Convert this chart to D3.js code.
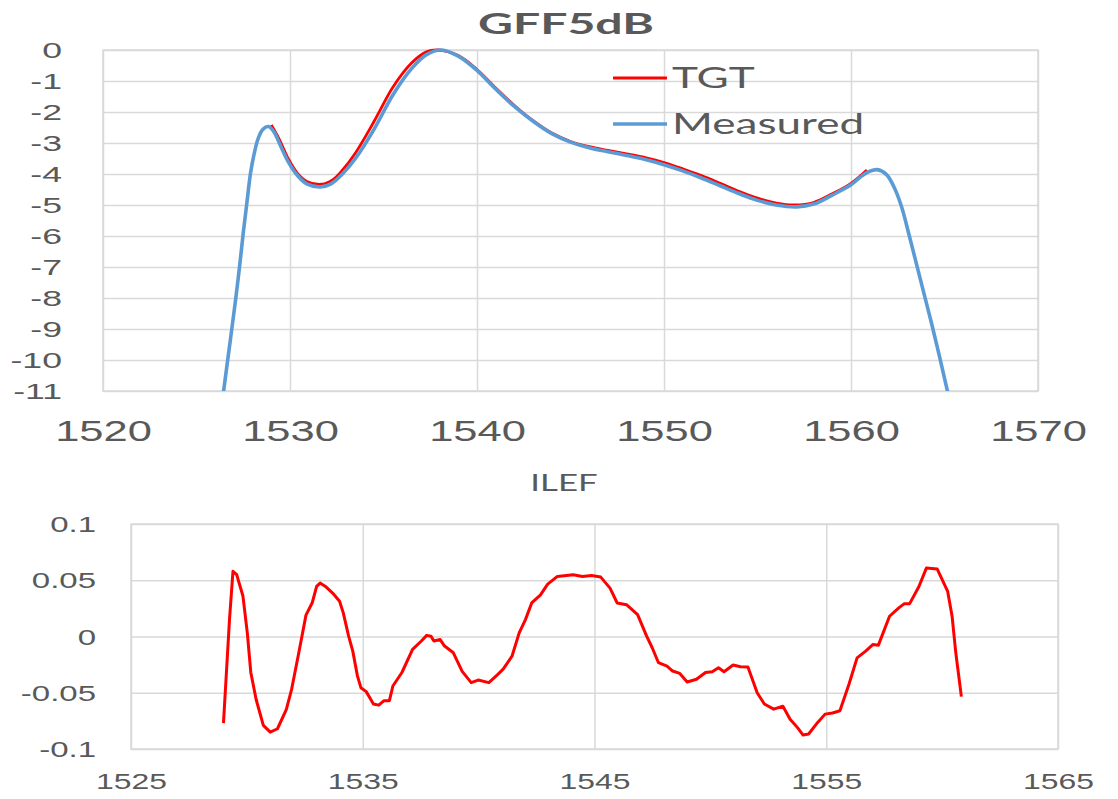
<!DOCTYPE html>
<html>
<head>
<meta charset="utf-8">
<script src="https://cdn.jsdelivr.net/npm/d3@7/dist/d3.min.js"></script>
<style>
  body { margin: 0; background: #fff; }
  svg { display: block; font-family: Lato, "Open Sans", sans-serif; }
</style>
</head>
<body>
<svg id="chart" width="1118" height="799"></svg>
<script>
// ---- GFF5dB: filter shape, wavelength (nm) vs attenuation (dB) ----
const tgtWl = [1529.0, 1529.4, 1529.9, 1530.4, 1530.9, 1531.7, 1532.3, 1532.8, 1533.5, 1534.5,
  1535.5, 1536.5, 1537.3, 1537.9, 1539, 1540, 1541, 1542, 1543, 1544, 1545, 1546, 1547, 1548,
  1549, 1550, 1551, 1552, 1553, 1554, 1555, 1556, 1557, 1558, 1559, 1560, 1560.85];
const tgtDb = [-2.42, -2.85, -3.5, -3.98, -4.24, -4.33, -4.18, -3.88, -3.32, -2.3,
  -1.2, -0.42, -0.06, 0, -0.18, -0.63, -1.23, -1.79, -2.28, -2.68, -2.95, -3.12, -3.24, -3.35,
  -3.47, -3.63, -3.83, -4.05, -4.3, -4.56, -4.78, -4.94, -5.0, -4.92, -4.64, -4.3, -3.87];

const measWl = [1526.35, 1526.45, 1526.8, 1527.09, 1527.3, 1527.5, 1527.7, 1527.89, 1528.1, 1528.3,
  1528.55, 1528.85, 1529.15, 1529.5, 1529.9, 1530.4, 1530.9, 1531.6, 1532.2, 1532.8,
  1533.5, 1534.5, 1535.5, 1536.5, 1537.3, 1538.1, 1539, 1540, 1541, 1542,
  1543, 1544, 1545, 1546, 1547, 1548, 1549, 1550, 1551, 1552,
  1553, 1554, 1555, 1556, 1557.1, 1558, 1559, 1560, 1560.5, 1560.9,
  1561.4, 1561.9, 1562.3, 1562.7, 1563.1, 1563.5, 1563.9, 1564.3, 1564.7, 1565.1, 1565.2];
const measDb = [-11.5, -11, -9.4, -8.06, -7.0, -5.9, -4.9, -3.97, -3.3, -2.85,
  -2.56, -2.47, -2.65, -3.1, -3.6, -4.05, -4.32, -4.42, -4.32, -4.0,
  -3.5, -2.55, -1.45, -0.6, -0.15, 0, -0.2, -0.66, -1.26, -1.82,
  -2.3, -2.7, -2.97, -3.15, -3.28, -3.4, -3.53, -3.7, -3.9, -4.13,
  -4.38, -4.63, -4.85, -5.0, -5.06, -4.97, -4.68, -4.35, -4.1, -3.94,
  -3.86, -4.02, -4.42, -5.05, -5.95, -6.9, -7.85, -8.8, -9.8, -10.85, -11.1];

const gffXTicks = [1520, 1530, 1540, 1550, 1560, 1570];
const gffYTicks = [0, -1, -2, -3, -4, -5, -6, -7, -8, -9, -10, -11];
const gffSeries = ["TGT", "Measured"];

// ---- ILEF: insertion loss error function ----
const ilefWl = [1528.99, 1529.25, 1529.40, 1529.56, 1529.83, 1530.02, 1530.17, 1530.40, 1530.71, 1531.01,
  1531.32, 1531.70, 1531.93, 1532.24, 1532.55, 1532.82, 1533.01, 1533.16, 1533.39, 1533.70,
  1534.00, 1534.16, 1534.39, 1534.57, 1534.77, 1534.92, 1535.15, 1535.46, 1535.69, 1535.92,
  1536.15, 1536.30, 1536.69, 1537.15, 1537.53, 1537.76, 1537.94, 1538.07, 1538.34, 1538.53,
  1538.91, 1539.29, 1539.68, 1539.98, 1540.44, 1540.83, 1541.06, 1541.44, 1541.75, 1542.02,
  1542.29, 1542.67, 1542.98, 1543.40, 1544.08, 1544.48, 1544.87, 1545.27, 1545.67, 1545.98,
  1546.38, 1546.86, 1547.25, 1547.49, 1547.76, 1548.13, 1548.37, 1548.68, 1549.00, 1549.40,
  1549.79, 1550.08, 1550.35, 1550.59, 1550.98, 1551.30, 1551.62, 1552.02, 1552.33, 1552.73,
  1553.13, 1553.44, 1553.76, 1554.00, 1554.24, 1554.63, 1554.95, 1555.27, 1555.59, 1555.98,
  1556.33, 1556.70, 1557.02, 1557.25, 1557.73, 1558.13, 1558.37, 1558.60, 1559.00, 1559.32,
  1559.79, 1560.24, 1560.43, 1560.59, 1560.83];
const ilefVal = [-0.077, 0.015, 0.058, 0.055, 0.036, 0.003, -0.032, -0.056, -0.079, -0.085,
  -0.082, -0.065, -0.047, -0.0145, 0.019, 0.030, 0.0445, 0.0475, 0.0445, 0.0386,
  0.0313, 0.021, 0.0003, -0.013, -0.035, -0.0455, -0.049, -0.060, -0.061, -0.057,
  -0.057, -0.044, -0.032, -0.0115, -0.004, 0.001, 0.0003, -0.004, -0.0027, -0.0085,
  -0.0145, -0.031, -0.041, -0.0387, -0.041, -0.0337, -0.029, -0.0175, 0.0032, 0.015,
  0.0298, 0.037, 0.0465, 0.0534, 0.0549, 0.0534, 0.0543, 0.0528, 0.043, 0.0298,
  0.0283, 0.0195, 0.0003, -0.010, -0.0233, -0.0263, -0.0307, -0.0328, -0.0404, -0.038,
  -0.032, -0.0313, -0.0277, -0.0313, -0.0254, -0.0269, -0.0271, -0.050, -0.060, -0.0646,
  -0.062, -0.0735, -0.081, -0.0876, -0.0867, -0.0764, -0.069, -0.068, -0.066, -0.0425,
  -0.019, -0.013, -0.0071, -0.0077, 0.018, 0.0254, 0.0292, 0.0292, 0.0445, 0.0608,
  0.0599, 0.0401, 0.018, -0.0145, -0.0534];

const ilefXTicks = [1525, 1535, 1545, 1555, 1565];
const ilefYTicks = [0.1, 0.05, 0, -0.05, -0.1];

// ---- drawing ----
const TEXT = "#595959", GRID = "#d9d9d9";
const RED = "#ff0000", BLUE = "#5b9bd5";
const svg = d3.select("#chart");
svg.append("rect").attr("width", 1118).attr("height", 799).attr("fill", "#fff");

// horizontally widened glyphs, as in the exported chart
function widen(sel, sx) {
  sel.attr("transform", `scale(${sx},1)`);
}

function panel(opt) {
  const g = svg.append("g");
  const x = d3.scaleLinear().domain(opt.xDomain).range([opt.left, opt.right]);
  const y = d3.scaleLinear().domain(opt.yDomain).range([opt.bottom, opt.top]);
  const w = opt.right - opt.left, h = opt.bottom - opt.top;

  // vertical grid + x labels
  const gx = g.append("g").attr("transform", `translate(0,${opt.bottom})`)
    .call(d3.axisBottom(x).tickValues(opt.xTicks).tickSize(-h).tickPadding(0).tickFormat(d => String(d)));
  gx.select(".domain").remove();
  gx.selectAll("line").attr("stroke", GRID).attr("stroke-width", 1.5);
  gx.selectAll("text").attr("y", opt.xLabelDy).attr("dy", null)
    .attr("fill", TEXT).style("font-size", opt.xFont + "px")
    .call(widen, opt.xStretch);

  // horizontal grid + y labels
  const gy = g.append("g").attr("transform", `translate(${opt.left},0)`)
    .call(d3.axisLeft(y).tickValues(opt.yTicks).tickSize(-w).tickPadding(0).tickFormat(d => String(d)));
  gy.select(".domain").remove();
  gy.selectAll("line").attr("stroke", GRID).attr("stroke-width", 1.5);
  gy.selectAll("text").attr("x", -opt.yLabelGap / opt.yStretch).attr("dy", "0.35em")
    .attr("fill", TEXT).style("font-size", opt.yFont + "px")
    .call(widen, opt.yStretch);

  // plot frame
  g.append("rect").attr("x", opt.left).attr("y", opt.top).attr("width", w).attr("height", h)
    .attr("fill", "none").attr("stroke", GRID).attr("stroke-width", 1.5);

  const clipId = "clip-" + opt.name;
  svg.append("clipPath").attr("id", clipId).append("rect")
    .attr("x", opt.left).attr("y", opt.top - 4).attr("width", w).attr("height", h + 4);

  // title
  const t = g.append("g").attr("transform", `translate(${opt.titleX},${opt.titleY})`);
  t.append("text").attr("text-anchor", "middle").attr("fill", TEXT)
    .style("font-size", opt.titleFont + "px").style("font-weight", opt.titleWeight)
    .text(opt.title).call(widen, opt.titleStretch);

  return { g, x, y, clipId };
}

// upper panel: GFF5dB
const gffPanel = panel({
  name: "gff", title: "GFF5dB", titleX: 566, titleY: 34, titleFont: 28, titleWeight: 700, titleStretch: 1.72,
  xDomain: [1520, 1570], yDomain: [-11, 0],
  left: 103, right: 1038, top: 50, bottom: 391,
  xTicks: gffXTicks, yTicks: gffYTicks,
  xFont: 29, xStretch: 1.5, xLabelDy: 50,
  yFont: 22, yStretch: 1.62, yLabelGap: 41
});

const tgtPts = tgtWl.map((w, i) => [w, tgtDb[i]]);
const measPts = measWl.map((w, i) => [w, measDb[i]]);
const gffLine = d3.line().x(d => gffPanel.x(d[0])).y(d => gffPanel.y(d[1])).curve(d3.curveCatmullRom.alpha(0.5));

const gffLines = gffPanel.g.append("g").attr("clip-path", `url(#${gffPanel.clipId})`);
gffLines.append("path").datum(tgtPts).attr("d", gffLine)
  .attr("fill", "none").attr("stroke", RED).attr("stroke-width", 2.8).attr("stroke-linejoin", "round");
gffLines.append("path").datum(measPts).attr("d", gffLine)
  .attr("fill", "none").attr("stroke", BLUE).attr("stroke-width", 3.6).attr("stroke-linejoin", "round");

// legend
const legendColors = [RED, BLUE];
const legend = gffPanel.g.append("g");
gffSeries.forEach((name, i) => {
  const cy = 78 + i * 46;
  legend.append("line").attr("x1", 613).attr("x2", 667).attr("y1", cy).attr("y2", cy)
    .attr("stroke", legendColors[i]).attr("stroke-width", i === 0 ? 2.8 : 3.6);
  const lt = legend.append("g").attr("transform", `translate(672,${cy + 10})`);
  lt.append("text").attr("fill", TEXT).style("font-size", "29px").text(name).call(widen, 1.52);
});

// lower panel: ILEF
const ilefPanel = panel({
  name: "ilef", title: "ILEF", titleX: 564, titleY: 491, titleFont: 24, titleWeight: 400, titleStretch: 1.45,
  xDomain: [1525, 1565], yDomain: [-0.1, 0.1],
  left: 131, right: 1058, top: 524, bottom: 749,
  xTicks: ilefXTicks, yTicks: ilefYTicks,
  xFont: 22, xStretch: 1.45, xLabelDy: 40,
  yFont: 22, yStretch: 1.5, yLabelGap: 35
});

const ilefPts = ilefWl.map((w, i) => [w, ilefVal[i]]);
ilefPanel.g.append("path").datum(ilefPts)
  .attr("d", d3.line().x(d => ilefPanel.x(d[0])).y(d => ilefPanel.y(d[1])))
  .attr("fill", "none").attr("stroke", RED).attr("stroke-width", 3).attr("stroke-linejoin", "round");
</script>
</body>
</html>
